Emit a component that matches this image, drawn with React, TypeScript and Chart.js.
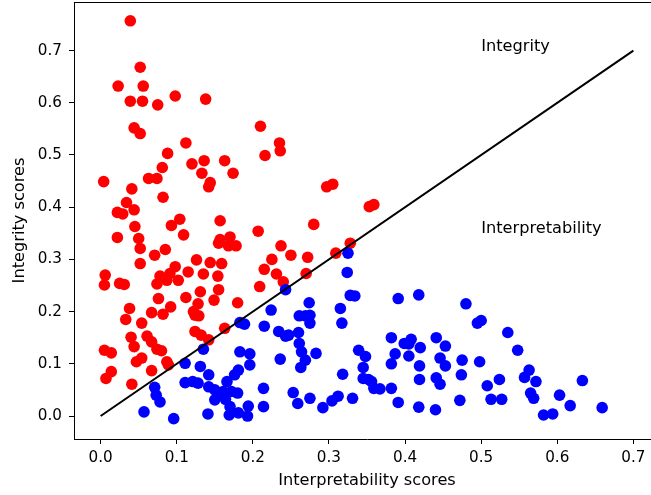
import React, { useEffect, useRef } from "react";
import { Chart, registerables } from "chart.js";

Chart.register(...registerables);

// Integrity-dominant points (red)
const redX = [
  0.039, 0.052, 0.023, 0.056, 0.039, 0.055, 0.075, 0.098, 0.138, 0.044,
  0.052, 0.112, 0.210, 0.088, 0.235, 0.236, 0.216, 0.120, 0.136, 0.163,
  0.081, 0.133, 0.174, 0.004, 0.063, 0.074, 0.144, 0.142, 0.041, 0.082,
  0.034, 0.022, 0.029, 0.044, 0.297, 0.305, 0.353, 0.359, 0.104, 0.093,
  0.157, 0.280, 0.045, 0.109, 0.207, 0.050, 0.022, 0.157, 0.170, 0.155,
  0.168, 0.178, 0.237, 0.328, 0.052, 0.085, 0.309, 0.071, 0.250, 0.272,
  0.225, 0.126, 0.144, 0.159, 0.052, 0.098, 0.215, 0.115, 0.135, 0.154,
  0.091, 0.078, 0.231, 0.270, 0.006, 0.102, 0.087, 0.240, 0.074, 0.005,
  0.025, 0.031, 0.209, 0.131, 0.155, 0.076, 0.112, 0.149, 0.180, 0.128,
  0.092, 0.038, 0.067, 0.082, 0.122, 0.124, 0.129, 0.033, 0.054, 0.163,
  0.124, 0.132, 0.040, 0.061, 0.142, 0.044, 0.067, 0.074, 0.080, 0.005,
  0.014, 0.054, 0.047, 0.087, 0.089, 0.067, 0.014, 0.007, 0.041,
];
const redY = [
  0.757, 0.668, 0.632, 0.632, 0.603, 0.603, 0.596, 0.613, 0.607, 0.552,
  0.541, 0.523, 0.555, 0.503, 0.523, 0.508, 0.499, 0.483, 0.489, 0.489,
  0.476, 0.465, 0.465, 0.449, 0.455, 0.455, 0.447, 0.439, 0.435, 0.419,
  0.409, 0.390, 0.387, 0.395, 0.439, 0.444, 0.401, 0.405, 0.377, 0.365,
  0.374, 0.367, 0.363, 0.347, 0.354, 0.340, 0.342, 0.338, 0.343, 0.331,
  0.326, 0.326, 0.326, 0.331, 0.321, 0.319, 0.312, 0.308, 0.308, 0.304,
  0.300, 0.299, 0.294, 0.292, 0.292, 0.286, 0.281, 0.276, 0.272, 0.268,
  0.273, 0.268, 0.272, 0.273, 0.270, 0.260, 0.260, 0.257, 0.253, 0.251,
  0.254, 0.252, 0.248, 0.238, 0.242, 0.225, 0.227, 0.222, 0.217, 0.215,
  0.209, 0.206, 0.198, 0.195, 0.200, 0.193, 0.192, 0.185, 0.178, 0.168,
  0.162, 0.155, 0.151, 0.153, 0.146, 0.133, 0.142, 0.128, 0.125, 0.126,
  0.121, 0.111, 0.104, 0.104, 0.098, 0.087, 0.085, 0.072, 0.061,
];

// Interpretability-dominant points (blue)
const blueX = [
  0.325, 0.324, 0.243, 0.328, 0.334, 0.391, 0.418, 0.480, 0.224, 0.274,
  0.315, 0.261, 0.269, 0.275, 0.275, 0.317, 0.215, 0.234, 0.243, 0.247,
  0.260, 0.261, 0.264, 0.269, 0.283, 0.236, 0.263, 0.382, 0.399, 0.408,
  0.405, 0.420, 0.441, 0.453, 0.475, 0.339, 0.348, 0.387, 0.405, 0.446,
  0.453, 0.382, 0.419, 0.345, 0.318, 0.345, 0.352, 0.356, 0.359, 0.367,
  0.382, 0.419, 0.441, 0.446, 0.474, 0.214, 0.253, 0.259, 0.275, 0.292,
  0.304, 0.312, 0.331, 0.391, 0.418, 0.440, 0.472, 0.214, 0.495, 0.500,
  0.535, 0.548, 0.498, 0.563, 0.557, 0.524, 0.508, 0.572, 0.633, 0.513,
  0.527, 0.565, 0.569, 0.603, 0.617, 0.659, 0.582, 0.594, 0.183, 0.189,
  0.135, 0.111, 0.131, 0.183, 0.196, 0.196, 0.181, 0.176, 0.142, 0.166,
  0.111, 0.121, 0.128, 0.142, 0.150, 0.161, 0.155, 0.172, 0.180, 0.164,
  0.150, 0.170, 0.169, 0.181, 0.194, 0.193, 0.071, 0.073, 0.078, 0.057,
  0.096, 0.141,
];
const blueY = [
  0.312, 0.275, 0.242, 0.231, 0.230, 0.225, 0.232, 0.215, 0.203, 0.217,
  0.206, 0.192, 0.192, 0.193, 0.178, 0.178, 0.172, 0.162, 0.153, 0.155,
  0.160, 0.139, 0.123, 0.107, 0.120, 0.109, 0.093, 0.150, 0.139, 0.147,
  0.138, 0.131, 0.150, 0.134, 0.107, 0.126, 0.114, 0.119, 0.115, 0.111,
  0.096, 0.100, 0.096, 0.093, 0.080, 0.072, 0.070, 0.066, 0.053, 0.052,
  0.053, 0.070, 0.073, 0.061, 0.079, 0.053, 0.045, 0.024, 0.034, 0.016,
  0.029, 0.038, 0.034, 0.026, 0.017, 0.012, 0.030, 0.018, 0.178, 0.183,
  0.160, 0.126, 0.104, 0.088, 0.074, 0.070, 0.058, 0.066, 0.068, 0.032,
  0.032, 0.044, 0.034, 0.040, 0.020, 0.016, 0.002, 0.004, 0.179, 0.176,
  0.128, 0.101, 0.095, 0.123, 0.119, 0.098, 0.088, 0.079, 0.079, 0.066,
  0.064, 0.066, 0.063, 0.056, 0.050, 0.047, 0.042, 0.047, 0.044, 0.032,
  0.031, 0.018, 0.002, 0.006, 0.019, 0.000, 0.055, 0.040, 0.027, 0.008,
  -0.005, 0.004,
];

// Diagonal separator line
const diagX = [0, 0.7];
const diagY = [0, 0.7];

// Tick values
const xTicks = [0, 0.1, 0.2, 0.3, 0.4, 0.5, 0.6, 0.7];
const yTicks = [0, 0.1, 0.2, 0.3, 0.4, 0.5, 0.6, 0.7];

// Region annotations
const noteTexts = ["Integrity", "Interpretability"];
const noteX = [0.5, 0.5];
const noteY = [0.7, 0.35];

const FONT = "'DejaVu Sans', sans-serif";
const TICK_SIZE = 15.2;
const LABEL_SIZE = 16.2;

const toPoints = (xs: number[], ys: number[]) => xs.map((x, i) => ({ x, y: ys[i] }));

const framePlugin = {
  id: "frameAndNotes",
  afterDraw(chart: any) {
    const { ctx, chartArea, scales } = chart;
    ctx.save();
    ctx.strokeStyle = "#000";
    ctx.lineWidth = 1;
    ctx.beginPath();
    ctx.moveTo(chartArea.left, chartArea.top + 0.5);
    ctx.lineTo(chartArea.right, chartArea.top + 0.5);
    ctx.moveTo(chartArea.right - 0.5, chartArea.top);
    ctx.lineTo(chartArea.right - 0.5, chartArea.bottom);
    ctx.stroke();
    ctx.fillStyle = "#000";
    ctx.font = `${LABEL_SIZE}px ${FONT}`;
    ctx.textAlign = "left";
    ctx.textBaseline = "alphabetic";
    noteTexts.forEach((t, i) => {
      ctx.fillText(t, scales.x.getPixelForValue(noteX[i]), scales.y.getPixelForValue(noteY[i]));
    });
    ctx.restore();
  },
};

export default function App() {
  const ref = useRef<HTMLCanvasElement | null>(null);

  useEffect(() => {
    if (!ref.current) return;
    const zeroPad = (s: any) => {
      s.paddingLeft = 0;
      s.paddingRight = 0;
      s.paddingTop = 0;
      s.paddingBottom = 0;
    };
    const chart = new Chart(ref.current, {
      type: "scatter",
      data: {
        datasets: [
          {
            type: "line",
            data: toPoints(diagX, diagY),
            borderColor: "#000",
            borderWidth: 2,
            pointRadius: 0,
            showLine: true,
            fill: false,
            order: 0,
          } as any,
          {
            data: toPoints(blueX, blueY),
            backgroundColor: "#0000ff",
            borderWidth: 0,
            pointRadius: 5.8,
            pointHoverRadius: 5.8,
            order: 1,
          },
          {
            data: toPoints(redX, redY),
            backgroundColor: "#ff0000",
            borderWidth: 0,
            pointRadius: 5.8,
            pointHoverRadius: 5.8,
            order: 2,
          },
        ],
      },
      options: {
        animation: false,
        responsive: false,
        events: [],
        layout: { autoPadding: false, padding: { left: 0, top: 2, right: 2, bottom: 0 } },
        plugins: { legend: { display: false }, tooltip: { enabled: false } },
        scales: {
          x: {
            type: "linear",
            min: -0.035,
            max: 0.735,
            afterBuildTicks: (s: any) => {
              s.ticks = xTicks.map((v) => ({ value: v }));
            },
            afterFit: (s: any) => {
              s.height = 56;
              zeroPad(s);
            },
            ticks: {
              callback: (v: any) => Number(v).toFixed(1),
              font: { family: FONT, size: TICK_SIZE },
              color: "#000",
              padding: 5,
              maxRotation: 0,
            },
            grid: { drawOnChartArea: false, tickLength: 5, color: "#000", tickColor: "#000" },
            border: { display: true, color: "#000", width: 1 },
            title: {
              display: true,
              text: "Interpretability scores",
              color: "#000",
              font: { family: FONT, size: LABEL_SIZE },
              padding: { top: 0, bottom: 4.9 },
            },
          },
          y: {
            type: "linear",
            min: -0.044,
            max: 0.793,
            afterBuildTicks: (s: any) => {
              s.ticks = yTicks.map((v) => ({ value: v }));
            },
            afterFit: (s: any) => {
              s.width = 74;
              zeroPad(s);
            },
            ticks: {
              callback: (v: any) => Number(v).toFixed(1),
              font: { family: FONT, size: TICK_SIZE },
              color: "#000",
              padding: 7,
            },
            grid: { drawOnChartArea: false, tickLength: 5, color: "#000", tickColor: "#000" },
            border: { display: true, color: "#000", width: 1 },
            title: {
              display: true,
              text: "Integrity scores",
              color: "#000",
              font: { family: FONT, size: LABEL_SIZE },
              padding: { top: 10.3, bottom: 0 },
            },
          },
        },
      },
      plugins: [framePlugin],
    });
    return () => chart.destroy();
  }, []);

  return (
    <div
      style={{
        position: "absolute",
        left: 0,
        top: 0,
        width: 651,
        height: 495,
        overflow: "hidden",
        background: "#fff",
      }}
    >
      <canvas ref={ref} width={662} height={495} style={{ width: 662, height: 495, display: "block" }} />
    </div>
  );
}
